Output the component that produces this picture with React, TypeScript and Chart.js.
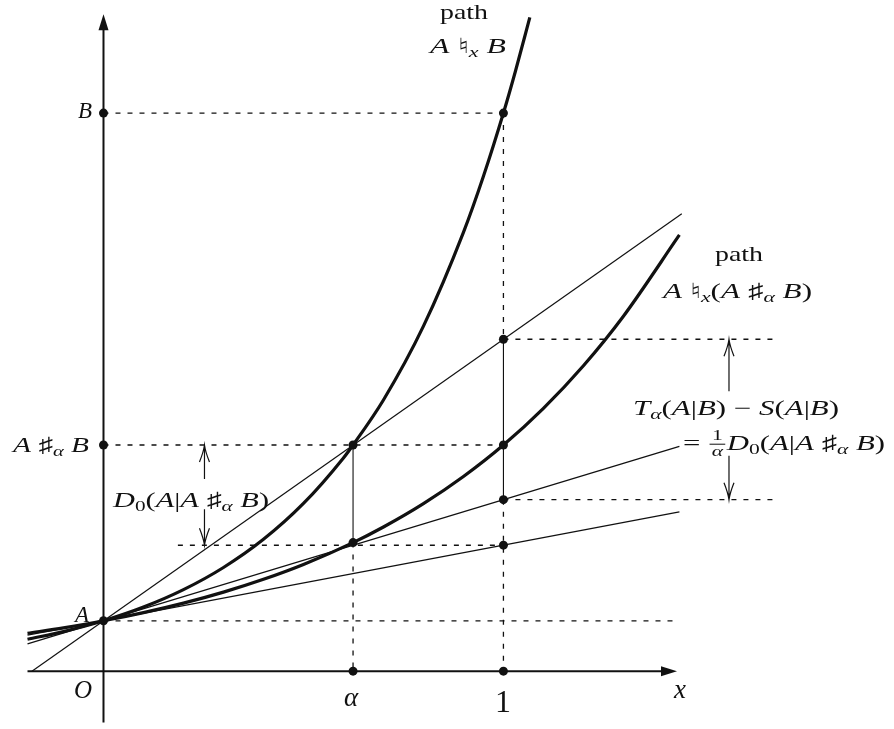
import React, { useEffect, useRef } from 'react';
import { Chart, registerables } from 'chart.js';

Chart.register(...registerables);

// ---------- values ----------
// x: 0 at the vertical axis, 1 at the mark "1";  y: A = 1
const ALPHA = 0.624;
const LEVEL_A = 1;
const LEVEL_B = 11.08;
const LEVEL_MEAN = 4.49; // A #_alpha B
const LEVEL_MEAN_ALPHA = 2.553; // path 2 at alpha
const LEVEL_T = 6.59; // chord at x = 1
const LEVEL_S = 3.405; // tangent of path 1 at x = 1
const LEVEL_LOW = 2.502; // tangent of path 2 at x = 1
const LEVEL_D0 = 2.5;

// thick curve: path A natural_x B
const pathBX = [-0.19, -0.1, 0, 0.1, 0.2, 0.3, 0.4, 0.5, 0.6, 0.624, 0.7, 0.8, 0.9, 0.95, 1.0, 1.03, 1.066];
const pathBY = [0.633, 0.786, 1, 1.272, 1.618, 2.058, 2.617, 3.329, 4.233, 4.49, 5.384, 6.849, 8.711, 9.825, 11.08, 11.91, 12.98];

// thick curve: path A natural_x (A #_alpha B)
const pathMX = [-0.19, -0.1, 0, 0.1, 0.2, 0.3, 0.4, 0.5, 0.624, 0.7, 0.8, 0.9, 1.0, 1.1, 1.2, 1.3, 1.44];
const pathMY = [0.752, 0.861, 1, 1.162, 1.35, 1.569, 1.824, 2.119, 2.553, 2.862, 3.326, 3.865, 4.49, 5.218, 6.064, 7.047, 8.66];

// thin straight lines through A
const chordX = [-0.179, 1.446];
const chordY = [0, 9.08];
const tangentBX = [-0.19, 1.44];
const tangentBY = [0.543, 4.463];
const tangentMX = [-0.19, 1.44];
const tangentMY = [0.715, 3.163];

// dots
const dotX = [0, 0, 0, 1, 1, 1, 1, 1, ALPHA, ALPHA, ALPHA, 1];
const dotY = [LEVEL_B, LEVEL_MEAN, LEVEL_A, LEVEL_B, LEVEL_T, LEVEL_MEAN, LEVEL_S, LEVEL_LOW, LEVEL_MEAN, LEVEL_MEAN_ALPHA, 0, 0];

// dotted guide segments [x1, y1, x2, y2]
const dottedSegments: number[][] = [
  [0, LEVEL_B, 1, LEVEL_B],
  [1, LEVEL_B, 1, LEVEL_T],
  [1, LEVEL_S, 1, 0],
  [ALPHA, LEVEL_MEAN_ALPHA, ALPHA, 0],
  [0, LEVEL_MEAN, 1, LEVEL_MEAN],
  [0.186, LEVEL_D0, 1, LEVEL_D0],
  [0, LEVEL_A, 1.43, LEVEL_A],
  [1, LEVEL_T, 1.69, LEVEL_T],
  [1, LEVEL_S, 1.69, LEVEL_S],
];
// thin solid connectors [x1, y1, x2, y2]
const solidSegments: number[][] = [
  [1, LEVEL_T, 1, LEVEL_S],
  [ALPHA, LEVEL_MEAN, ALPHA, LEVEL_MEAN_ALPHA],
];

// axis label strings
const LABEL_PATH = 'path';
const LABEL_O = 'O';
const LABEL_ALPHA = 'α';
const LABEL_ONE = '1';
const LABEL_X = 'x';

// ---------- layout ----------
const W = 894;
const H = 729;
const X_MIN = -100 / 404;
const X_MAX = 794 / 404;
const Y_MIN = -54 / 51;
const Y_MAX = 675 / 51;
const INK = '#111';
const FONT = '"Liberation Serif", "DejaVu Serif", "DejaVu Sans", serif';

type Seg = { t: string; it?: boolean; sub?: boolean; frac?: [string, string] };
const I = (t: string): Seg => ({ t, it: true });
const R = (t: string): Seg => ({ t });
const S = (t: string, it = false): Seg => ({ t, sub: true, it });

function segFont(s: Seg, size: number) {
  const sz = s.sub ? size * 0.7 : size;
  return `${s.it ? 'italic ' : ''}${sz}px ${FONT}`;
}
function segWidth(ctx: CanvasRenderingContext2D, s: Seg, size: number) {
  if (s.frac) {
    ctx.font = `italic ${size * 0.7}px ${FONT}`;
    return Math.max(ctx.measureText(s.frac[0]).width, ctx.measureText(s.frac[1]).width) + 5;
  }
  ctx.font = segFont(s, size);
  return ctx.measureText(s.t).width;
}
function drawRich(
  ctx: CanvasRenderingContext2D,
  segs: Seg[],
  size: number,
  baseline: number,
  opt: { left?: number; right?: number; cx?: number }
) {
  const widths = segs.map((s) => segWidth(ctx, s, size));
  const w = widths.reduce((a, b) => a + b, 0);
  let left = 0;
  let sx = 1;
  if (opt.left != null && opt.right != null) {
    left = opt.left;
    sx = (opt.right - opt.left) / w;
  } else {
    left = (opt.cx as number) - w / 2;
  }
  ctx.save();
  ctx.translate(left, baseline);
  ctx.scale(sx, 1);
  ctx.fillStyle = INK;
  ctx.textBaseline = 'alphabetic';
  let x = 0;
  segs.forEach((s, i) => {
    const sw = widths[i];
    if (s.frac) {
      const fs = size * 0.7;
      ctx.textAlign = 'center';
      ctx.font = `${fs}px ${FONT}`;
      ctx.fillText(s.frac[0], x + sw / 2, -size * 0.5);
      ctx.font = `italic ${fs}px ${FONT}`;
      ctx.fillText(s.frac[1], x + sw / 2, size * 0.3);
      ctx.fillRect(x + 1, -size * 0.3, sw - 2, 1);
    } else {
      ctx.textAlign = 'left';
      ctx.font = segFont(s, size);
      ctx.fillText(s.t, x, s.sub ? size * 0.2 : 0);
    }
    x += sw;
  });
  ctx.restore();
}

const SEG_AXB: Seg[] = [I('A'), R(' '), R('♮'), S('x', true), R(' '), I('B')];
const SEG_MEAN: Seg[] = [I('A'), R(' '), R('♯'), S('α', true), R(' '), I('B')];
const SEG_PATH2: Seg[] = [I('A'), R(' '), R('♮'), S('x', true), R('('), ...SEG_MEAN, R(')')];
const SEG_D0: Seg[] = [I('D'), S('0'), R('('), I('A'), R('|'), ...SEG_MEAN, R(')')];
const SEG_T: Seg[] = [I('T'), S('α', true), R('('), I('A'), R('|'), I('B'), R(') − '), I('S'), R('('), I('A'), R('|'), I('B'), R(')')];
const SEG_EQ: Seg[] = [R('= '), { t: '', frac: ['1', 'α'] }, ...SEG_D0];

function App() {
  const ref = useRef<HTMLCanvasElement>(null);

  useEffect(() => {
    const canvas = ref.current as HTMLCanvasElement;
    const pts = (xs: number[], ys: number[]) => xs.map((x, i) => ({ x, y: ys[i] }));
    const lineDs = (xs: number[], ys: number[], width: number, dash: number[] = [], smooth = false) => ({
      data: pts(xs, ys),
      showLine: true,
      borderColor: INK,
      backgroundColor: INK,
      borderWidth: width,
      borderDash: dash,
      pointRadius: 0,
      fill: false,
      tension: 0,
      cubicInterpolationMode: smooth ? 'monotone' : 'default',
      order: 2,
    });

    const datasets: any[] = [
      {
        data: pts(dotX, dotY),
        showLine: false,
        pointRadius: 4.5,
        pointBackgroundColor: INK,
        pointBorderWidth: 0,
        order: 0,
      },
      lineDs(pathBX, pathBY, 3.2, [], true),
      lineDs(pathMX, pathMY, 3.2, [], true),
      lineDs(chordX, chordY, 1.2),
      lineDs(tangentBX, tangentBY, 1.2),
      lineDs(tangentMX, tangentMY, 1.2),
      ...solidSegments.map((s) => lineDs([s[0], s[2]], [s[1], s[3]], 1.1)),
      ...dottedSegments.map((s) => lineDs([s[0], s[2]], [s[1], s[3]], 1.3, [5, 7])),
    ];

    const bg = {
      id: 'bg',
      beforeDraw(c: any) {
        const ctx = c.ctx;
        ctx.save();
        ctx.fillStyle = '#fff';
        ctx.fillRect(0, 0, c.width, c.height);
        ctx.restore();
      },
    };

    const deco = {
      id: 'deco',
      beforeDatasetsDraw(c: any) {
        const ctx: CanvasRenderingContext2D = c.ctx;
        const px = (v: number) => c.scales.x.getPixelForValue(v);
        const py = (v: number) => c.scales.y.getPixelForValue(v);
        ctx.save();
        ctx.strokeStyle = INK;
        ctx.fillStyle = INK;
        ctx.lineWidth = 2;
        // x axis
        const x0 = px(-0.19), x1 = px(1.434), yA = py(0);
        ctx.beginPath();
        ctx.moveTo(x0, yA);
        ctx.lineTo(x1 - 8, yA);
        ctx.stroke();
        ctx.beginPath();
        ctx.moveTo(x1, yA);
        ctx.lineTo(x1 - 16, yA - 5);
        ctx.lineTo(x1 - 16, yA + 5);
        ctx.closePath();
        ctx.fill();
        // y axis
        const xA = px(0), yb = py(-1.02), yt = py(13.04);
        ctx.beginPath();
        ctx.moveTo(xA, yb);
        ctx.lineTo(xA, yt + 8);
        ctx.stroke();
        ctx.beginPath();
        ctx.moveTo(xA, yt);
        ctx.lineTo(xA - 5, yt + 16);
        ctx.lineTo(xA + 5, yt + 16);
        ctx.closePath();
        ctx.fill();
        ctx.restore();
      },
      afterDatasetsDraw(c: any) {
        const ctx: CanvasRenderingContext2D = c.ctx;
        const px = (v: number) => c.scales.x.getPixelForValue(v);
        const py = (v: number) => c.scales.y.getPixelForValue(v);
        ctx.save();
        ctx.strokeStyle = INK;
        ctx.lineWidth = 1.2;
        const arrow = (x: number, tip: number, tail: number) => {
          const dir = tail > tip ? 1 : -1;
          ctx.beginPath();
          ctx.moveTo(x, tail);
          ctx.lineTo(x, tip);
          ctx.moveTo(x - 5, tip + dir * 17);
          ctx.quadraticCurveTo(x - 1, tip + dir * 7, x, tip);
          ctx.quadraticCurveTo(x + 1, tip + dir * 7, x + 5, tip + dir * 17);
          ctx.stroke();
        };
        // D0 arrows
        const xd = px(0.2525);
        arrow(xd, py(LEVEL_MEAN), py(LEVEL_MEAN) + 34);
        arrow(xd, py(LEVEL_D0), py(LEVEL_D0) - 36);
        // T - S arrows
        const xt = px(1.564);
        arrow(xt, py(LEVEL_T), py(LEVEL_T) + 52);
        arrow(xt, py(LEVEL_S), py(LEVEL_S) - 44);
        ctx.restore();

        // texts
        drawRich(ctx, [R(LABEL_PATH)], 21, 18.5, { left: 440, right: 488 });
        drawRich(ctx, SEG_AXB, 21, 52.5, { left: 430, right: 506 });
        drawRich(ctx, [R(LABEL_PATH)], 21, 260.5, { left: 715, right: 763 });
        drawRich(ctx, SEG_PATH2, 21, 298, { left: 663, right: 812 });
        drawRich(ctx, SEG_T, 21, 415, { left: 633, right: 839 });
        drawRich(ctx, SEG_EQ, 21, 450, { left: 683, right: 885 });
        drawRich(ctx, SEG_D0, 21, 506.5, { left: 113, right: 269 });
        drawRich(ctx, [I('B')], 23, 118, { cx: 85 });
        drawRich(ctx, SEG_MEAN, 21, 451.5, { left: 13, right: 89 });
        drawRich(ctx, [I('A')], 23, 622, { cx: 82 });
        drawRich(ctx, [I(LABEL_O)], 25, 698, { cx: 83 });
        drawRich(ctx, [I(LABEL_ALPHA)], 27, 706, { cx: 351 });
        drawRich(ctx, [R(LABEL_ONE)], 32, 712, { cx: 503 });
        drawRich(ctx, [I(LABEL_X)], 27, 698, { cx: 680 });
      },
    };

    const chart = new Chart(canvas, {
      type: 'scatter',
      data: { datasets },
      options: {
        responsive: false,
        maintainAspectRatio: false,
        animation: false,
        devicePixelRatio: 1,
        events: [],
        layout: { padding: 0 },
        plugins: { legend: { display: false }, tooltip: { enabled: false } },
        scales: {
          x: { type: 'linear', min: X_MIN, max: X_MAX, display: false },
          y: { type: 'linear', min: Y_MIN, max: Y_MAX, display: false },
        },
      },
      plugins: [bg, deco],
    } as any);
    return () => chart.destroy();
  }, []);

  return (
    <div style={{ position: 'absolute', left: 0, top: 0, width: W, height: H }}>
      <canvas ref={ref} width={W} height={H} style={{ display: 'block', width: W, height: H }} />
    </div>
  );
}

export default App;
